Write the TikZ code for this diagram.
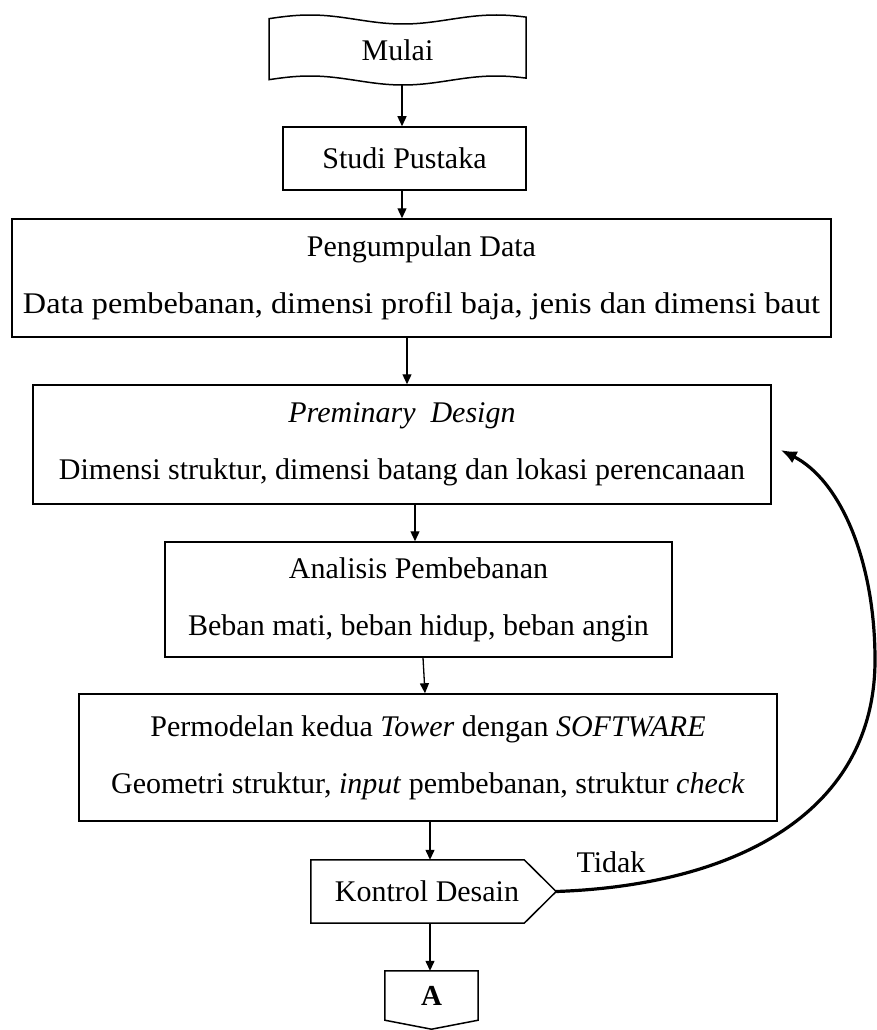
\documentclass[tikz,border=0pt]{standalone}
\usepackage{fontspec}
\setmainfont{Liberation Serif}
\newfontfamily\widerm{Liberation Serif}[FakeStretch=1.075]
\usetikzlibrary{arrows.meta,calc}
\begin{document}
\begin{tikzpicture}[x=1pt,y=-1pt,
  box/.style={draw, line width=1.5pt, rectangle, inner sep=0pt, align=center, font=\fontsize{30}{57}\selectfont},
  ghost/.style={rectangle, inner sep=0pt, font=\fontsize{30}{34}\selectfont},
  arr/.style={line width=1.3pt, -{Triangle[length=10pt,width=9pt]}},
  loopback/.style={line width=3.2pt, -{Latex[length=16pt,width=13pt]}},
  outline/.style={draw, line width=1.5pt}
]
\useasboundingbox (0,0) rectangle (877,1030);
% Mulai (punched tape)
\node[ghost, minimum width=257pt, minimum height=70pt] (mulai) at (397.5,50) {Mulai};
\draw[outline] plot[domain=269:526,samples=80] (\x,{19.5+4.5*cos((\x-403)*1.93548)})
  -- plot[domain=526:269,samples=80] (\x,{80.5+4.5*cos((\x-403)*1.93548)}) -- cycle;
% boxes
\node[box, minimum width=243pt, minimum height=63pt] (studi) at (404.5,158.5) {Studi Pustaka};
\node[box, minimum width=819pt, minimum height=118pt] (peng) at (421.5,278)
  {Pengumpulan Data\\{\widerm Data pembebanan, dimensi profil baja, jenis dan dimensi baut}};
\node[box, minimum width=738pt, minimum height=119pt] (pre) at (402,444.5)
  {\textit{Preminary\ \ Design}\\Dimensi struktur, dimensi batang dan lokasi perencanaan};
\node[box, minimum width=507pt, minimum height=115pt] (ana) at (418.5,599.5)
  {Analisis Pembebanan\\Beban mati, beban hidup, beban angin};
\node[box, minimum width=698pt, minimum height=127pt] (perm) at (428,757.5)
  {Permodelan kedua \textit{Tower} dengan \textit{SOFTWARE}\\Geometri struktur, \textit{input} pembebanan, struktur \textit{check}};
% Kontrol Desain
\node[ghost, minimum width=213pt, minimum height=63pt] (kontrol) at (417.5,891.5) {\hspace*{19pt}Kontrol Desain};
\draw[outline] (kontrol.north west) -- (kontrol.north east) -- ([xshift=32pt]kontrol.east)
  -- (kontrol.south east) -- (kontrol.south west) -- cycle;
% A (off-page connector)
\node[ghost, font=\bfseries\fontsize{29}{34}\selectfont, minimum width=93pt, minimum height=49pt] (A) at (431.5,995.5) {A};
\draw[outline] (A.south west) -- (A.north west) -- (A.north east) -- (A.south east)
  -- ([yshift=-9pt]A.south) -- cycle;
% label
\node[ghost] (tidak) at (611,862) {Tidak};
% arrows
\draw[arr] ([xshift=4.5pt]mulai.south) -- ([xshift=-2.5pt]studi.north);
\draw[arr] ([xshift=-2.5pt]studi.south) -- ([xshift=-19.5pt]peng.north);
\draw[arr] ([xshift=-14.5pt]peng.south) -- ([xshift=5pt]pre.north);
\draw[arr] ([xshift=13pt]pre.south) -- ([xshift=-3.5pt]ana.north);
\draw[arr] ([xshift=4.5pt]ana.south) -- ([xshift=-3pt]perm.north);
\draw[arr] ([xshift=2pt]perm.south) -- ([xshift=12.5pt]kontrol.north);
\draw[arr] ([xshift=12.5pt]kontrol.south) -- ([xshift=-1.5pt]A.north);
% loop back
\coordinate (bulge) at (875,660);
\draw[loopback] ([xshift=32pt]kontrol.east) .. controls (740,885) and (875,810) .. (bulge)
  .. controls (875,560) and (840,480) .. ([xshift=9pt,yshift=-5.5pt]pre.east);
\end{tikzpicture}
\end{document}
